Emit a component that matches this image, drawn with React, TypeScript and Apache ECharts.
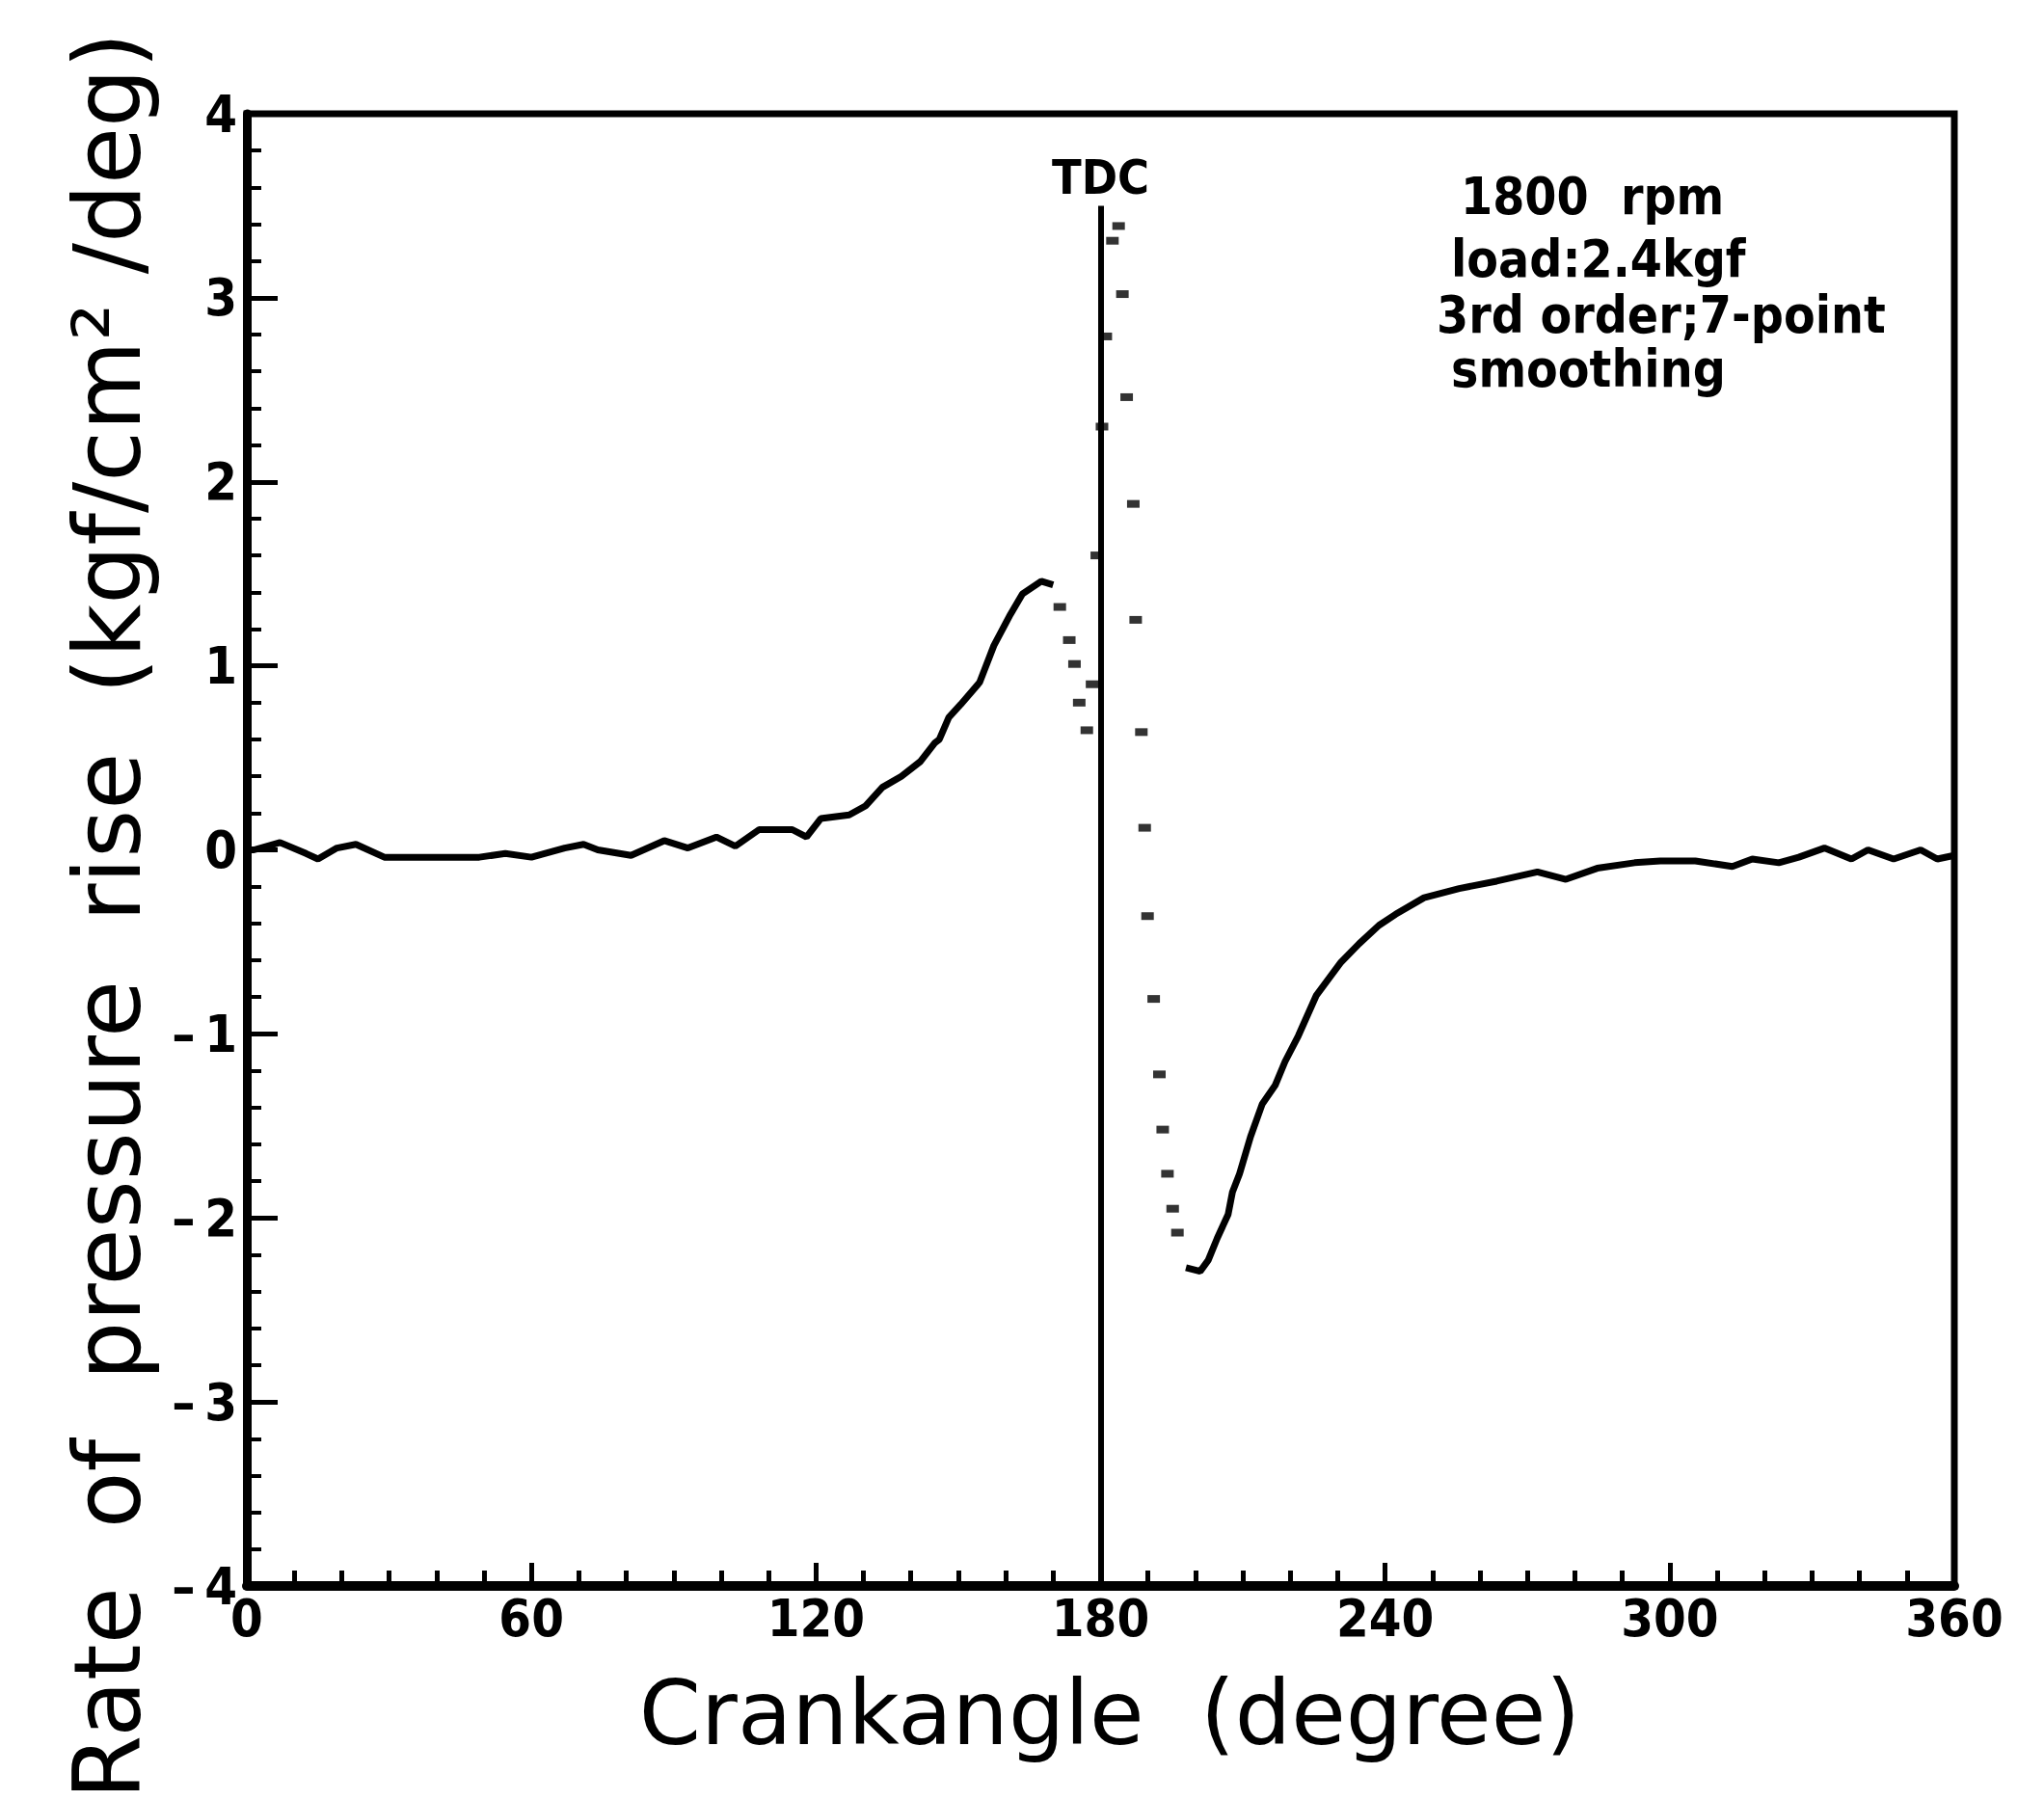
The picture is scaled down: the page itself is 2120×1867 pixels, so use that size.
import React, { useEffect, useRef } from "react";
import * as echarts from "echarts";

// Crank angle (degree) / rate of pressure rise (kgf/cm2/deg)
const preAngle = [0, 1.5, 7, 12.5, 15, 19, 23, 29, 40, 49, 54.5, 60, 67, 71, 74, 81, 88, 93, 99, 103, 108, 115, 118, 121, 127, 130.5, 134, 138, 142, 145, 146, 148, 150.5, 154.5, 157.5, 161, 163.5, 167.5, 170];
const preRate = [0.0, 0.0, 0.04, -0.02, -0.05, 0.01, 0.03, -0.04, -0.04, -0.04, -0.02, -0.04, 0.01, 0.03, 0.0, -0.03, 0.05, 0.01, 0.07, 0.02, 0.11, 0.11, 0.07, 0.17, 0.19, 0.24, 0.34, 0.4, 0.48, 0.58, 0.6, 0.72, 0.79, 0.91, 1.11, 1.28, 1.39, 1.46, 1.44];

const tdcAngle = [171.4, 173.4, 174.5, 175.5, 177.1, 178.2, 179.2, 180.3, 181.1, 182.5, 183.8, 184.6, 185.5, 186.9, 187.4, 188.6, 189.3, 189.9, 191.2, 192.4, 193.1, 194.1, 195.2, 196.2];
const tdcRate = [1.32, 1.14, 1.01, 0.8, 0.65, 0.9, 1.6, 2.3, 2.79, 3.31, 3.39, 3.02, 2.46, 1.88, 1.25, 0.64, 0.12, -0.36, -0.81, -1.22, -1.52, -1.76, -1.95, -2.08];

const postAngle = [198, 201, 202.7, 204.6, 206.9, 207.8, 209.3, 211.6, 214.1, 216.8, 218.9, 221.7, 225.5, 230.7, 234.5, 238.7, 242.2, 248.2, 255.6, 263.5, 272.1, 278.1, 284.7, 292.6, 298, 305.4, 313.2, 317.4, 323, 327.2, 332.6, 338.3, 341.8, 347.2, 352.9, 356.4, 360];
const postRate = [-2.27, -2.29, -2.23, -2.11, -1.98, -1.86, -1.76, -1.56, -1.38, -1.28, -1.15, -1.01, -0.79, -0.61, -0.51, -0.41, -0.35, -0.26, -0.21, -0.17, -0.12, -0.16, -0.1, -0.07, -0.06, -0.06, -0.09, -0.05, -0.07, -0.04, 0.01, -0.05, 0.0, -0.05, 0.0, -0.05, -0.03];

const tdcAt = 180;
const tdcTop = 3.5;
const noteLines = ["1800  rpm", "load:2.4kgf", "3rd order;7-point", "smoothing"];
const xTitle = "Crankangle  (degree)";
const yTitle = "Rate  of  pressure  rise  (kgf/cm\u00B2 /deg)";

const COND = "'DejaVu Sans Condensed', 'Liberation Sans Narrow', 'DejaVu Sans', sans-serif";
const PLAIN = "'DejaVu Sans', sans-serif";

const zip = (a: number[], b: number[]) => a.map((x, i) => [x, b[i]]);

export default function App() {
  const ref = useRef<HTMLDivElement>(null);
  useEffect(() => {
    document.body.style.margin = "0";
    const chart = echarts.init(ref.current!, null, { renderer: "svg" });
    const noteX = [1515, 1505, 1490, 1505];
    const noteY = [203, 268, 326, 382];
    chart.setOption({
      animation: false,
      backgroundColor: "#ffffff",
      grid: { left: 256, right: 93, top: 118, bottom: 222, show: true, borderColor: "#000", borderWidth: 7, backgroundColor: "transparent" },
      xAxis: {
        type: "value",
        min: 0,
        max: 360,
        interval: 60,
        axisLine: { show: true, onZero: false, lineStyle: { color: "#000", width: 10 } },
        axisTick: { show: true, inside: true, length: 24, lineStyle: { color: "#000", width: 5 } },
        minorTick: { show: true, splitNumber: 6, length: 16, lineStyle: { color: "#000", width: 5 } },
        axisLabel: { color: "#000", fontSize: 54, fontWeight: "bold", fontFamily: COND, margin: 6 },
        splitLine: { show: false },
      },
      yAxis: {
        type: "value",
        min: -4,
        max: 4,
        interval: 1,
        axisLine: { show: true, onZero: false, lineStyle: { color: "#000", width: 9 } },
        axisTick: { show: true, inside: true, length: 32, lineStyle: { color: "#000", width: 5 } },
        minorTick: { show: true, splitNumber: 5, length: 15, lineStyle: { color: "#000", width: 4 } },
        axisLabel: {
          color: "#000",
          fontSize: 54,
          fontWeight: "bold",
          fontFamily: COND,
          margin: 10,
          formatter: (v: number) => (v < 0 ? "\u2013\u2009" + Math.abs(v) : String(v)),
        },
        splitLine: { show: false },
      },
      graphic: [
        {
          type: "text",
          x: 112,
          y: 950,
          rotation: Math.PI / 2,
          style: { text: yTitle, fill: "#000", fontSize: 96, fontFamily: PLAIN, align: "center", verticalAlign: "middle" },
        },
        {
          type: "text",
          x: 1151,
          y: 1777,
          style: { text: xTitle, fill: "#000", fontSize: 92, fontFamily: PLAIN, align: "center", verticalAlign: "middle" },
        },
        ...noteLines.map((t, i) => ({
          type: "text",
          x: noteX[i],
          y: noteY[i],
          style: { text: t, fill: "#000", fontSize: 53, fontWeight: "bold", fontFamily: COND, align: "left", verticalAlign: "middle" },
        })),
      ],
      series: [
        {
          type: "line",
          data: zip(preAngle, preRate),
          showSymbol: false,
          lineStyle: { color: "#000", width: 7 },
          z: 3,
          markLine: {
            silent: true,
            symbol: ["none", "none"],
            lineStyle: { color: "#000", width: 6, type: "solid" },
            label: { show: true, position: "end", formatter: "TDC", color: "#000", fontSize: 50, fontWeight: "bold", fontFamily: COND, distance: 4 },
            data: [[{ coord: [tdcAt, -4] }, { coord: [tdcAt, tdcTop] }]],
          },
        },
        {
          type: "scatter",
          data: zip(tdcAngle, tdcRate),
          symbol: "rect",
          symbolSize: [13, 8],
          itemStyle: { color: "#000" },
          z: 3,
        },
        {
          type: "line",
          data: zip(postAngle, postRate),
          showSymbol: false,
          lineStyle: { color: "#000", width: 7 },
          z: 3,
        },
      ],
    });
    return () => chart.dispose();
  }, []);
  return <div ref={ref} style={{ position: "absolute", left: 0, top: 0, width: 2120, height: 1867 }} />;
}
